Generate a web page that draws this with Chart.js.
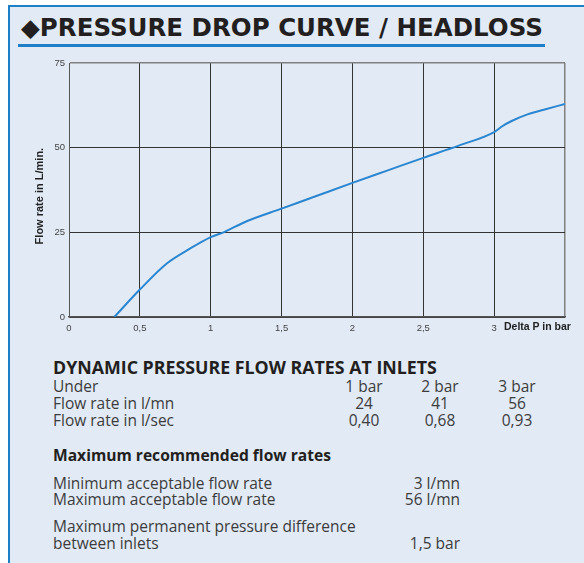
<!DOCTYPE html>
<html>
<head>
    <title>Pressure drop curve / headloss</title>
    <script src="https://cdn.jsdelivr.net/npm/chart.js"></script>
    <style>
        html, body { margin: 0; padding: 0; background: #fff; }
        .page {
            position: relative;
            width: 584px;
            height: 563px;
            overflow: hidden;
            background: #fff;
        }
        .frame {
            position: absolute;
            left: 8px; top: 5px;
            width: 600px; height: 600px;
            background: #e1eaf5;
            border-left: 2px solid #1d7fc6;
            border-top: 2px solid #1d7fc6;
        }
        .title {
            position: absolute;
            left: 21px; top: 13px;
            font-family: "DejaVu Sans", sans-serif;
            font-weight: bold;
            font-size: 24.5px;
            color: #231f20;
            white-space: nowrap;
        }
        .underline {
            position: absolute;
            left: 18px; top: 44px;
            width: 527px; height: 3px;
            background: #1d7fc6;
        }
        .chart-box {
            position: absolute;
            left: 0; top: 50px;
            width: 584px; height: 290px;
        }
        .xlabel {
            position: absolute;
            left: 504px; top: 320px;
            font-family: "Liberation Sans", Arial, sans-serif;
            font-weight: bold;
            font-size: 10.5px;
            color: #222;
            white-space: nowrap;
        }
        .txt {
            position: absolute;
            font-family: "Open Sans", sans-serif;
            font-size: 15.5px;
            color: #3c3c3c;
            white-space: nowrap;
            line-height: 17px;
        }
        .h1 { font-weight: bold; font-size: 17.8px; color: #231f20; }
        .h2 { font-weight: bold; font-size: 15.6px; color: #231f20; }
        .c { text-align: center; width: 60px; }
        .r { text-align: right; width: 80px; }
    </style>
</head>
<body>
<div class="page">
    <div class="frame"></div>
    <div class="title">&#9670;PRESSURE DROP CURVE / HEADLOSS</div>
    <div class="underline"></div>

    <div class="chart-box">
        <canvas id="flowChart" width="584" height="290"></canvas>
    </div>
    <div class="xlabel">Delta P in bar</div>

    <!-- tableau sous la courbe -->
    <div class="txt h1" style="left:53px; top:359px;">DYNAMIC PRESSURE FLOW RATES AT INLETS</div>
    <div class="txt" style="left:53px; top:378px;">Under</div>
    <div class="txt" style="left:53px; top:395px;">Flow rate in l/mn</div>
    <div class="txt" style="left:53px; top:412px;">Flow rate in l/sec</div>

    <div class="txt c" style="left:334px; top:378px;">1 bar</div>
    <div class="txt c" style="left:410px; top:378px;">2 bar</div>
    <div class="txt c" style="left:487px; top:378px;">3 bar</div>
    <div class="txt c" style="left:334px; top:395px;">24</div>
    <div class="txt c" style="left:410px; top:395px;">41</div>
    <div class="txt c" style="left:487px; top:395px;">56</div>
    <div class="txt c" style="left:334px; top:412px;">0,40</div>
    <div class="txt c" style="left:410px; top:412px;">0,68</div>
    <div class="txt c" style="left:487px; top:412px;">0,93</div>

    <div class="txt h2" style="left:53px; top:447px;">Maximum recommended flow rates</div>
    <div class="txt" style="left:53px; top:475px;">Minimum acceptable flow rate</div>
    <div class="txt" style="left:53px; top:491px;">Maximum acceptable flow rate</div>
    <div class="txt r" style="left:380px; top:475px;">3 l/mn</div>
    <div class="txt r" style="left:380px; top:491px;">56 l/mn</div>

    <div class="txt" style="left:53px; top:518px;">Maximum permanent pressure difference</div>
    <div class="txt" style="left:53px; top:535px;">between inlets</div>
    <div class="txt r" style="left:380px; top:535px;">1,5 bar</div>
</div>

<script>
// courbe (Delta P en bar, débit en L/min)
const deltaP = [0.32, 0.5, 0.69, 0.85, 1.0, 1.09, 1.25, 1.5, 1.75, 2.0, 2.25, 2.5, 2.75, 3.0, 3.06, 3.12, 3.24, 3.35, 3.5];
const flowRate = [0, 8.1, 15.8, 20.1, 23.6, 25.0, 28.2, 32.0, 35.8, 39.6, 43.3, 47.0, 50.6, 54.6, 56.4, 57.8, 59.9, 61.2, 62.9];

const xTickLabels = ['0', '0,5', '1', '1,5', '2', '2,5', '3'];
const yTickLabels = ['0', '25', '50', '75'];

const points = deltaP.map((x, i) => ({ x: x, y: flowRate[i] }));

const tickFont = { family: 'Liberation Sans', size: 9.5 };

new Chart(document.getElementById('flowChart').getContext('2d'), {
    type: 'line',
    data: {
        datasets: [{
            data: points,
            borderColor: '#2a86d0',
            borderWidth: 2,
            pointRadius: 0,
            cubicInterpolationMode: 'monotone',
            fill: false
        }]
    },
    options: {
        responsive: false,
        animation: false,
        layout: { padding: { top: 13, right: 19, left: 29, bottom: 0 } },
        plugins: {
            legend: { display: false },
            tooltip: { enabled: false }
        },
        scales: {
            x: {
                type: 'linear',
                min: 0,
                max: 3.5,
                ticks: {
                    stepSize: 0.5,
                    padding: 6,
                    color: '#444',
                    font: tickFont,
                    maxRotation: 0,
                    callback: (v, i) => xTickLabels[i] !== undefined ? xTickLabels[i] : ''
                },
                grid: {
                    drawTicks: false,
                    color: (ctx) => ctx.tick && ctx.tick.value === 3.5 ? '#808080' : '#333',
                    lineWidth: (ctx) => ctx.tick && ctx.tick.value === 3.5 ? 1.5 : 1
                },
                border: { color: '#555', width: 1.5 },
                afterFit: (s) => { s.height = 23; }
            },
            y: {
                min: 0,
                max: 75,
                ticks: {
                    stepSize: 25,
                    padding: 4,
                    color: '#444',
                    font: tickFont,
                    callback: (v, i) => yTickLabels[i]
                },
                grid: {
                    drawTicks: false,
                    color: (ctx) => ctx.tick && ctx.tick.value === 75 ? '#808080' : '#333',
                    lineWidth: (ctx) => ctx.tick && ctx.tick.value === 75 ? 1.5 : 1
                },
                border: { color: '#555', width: 1 },
                title: {
                    display: true,
                    // espaces en fin pour descendre un peu le titre, comme sur l'original
                    text: 'Flow rate in L/min.    ',
                    color: '#222',
                    font: { family: 'Liberation Sans', size: 11, weight: 'bold' },
                    padding: { top: 4, bottom: 0 }
                },
                afterFit: (s) => { s.width = 40; }
            }
        }
    }
});
</script>
</body>
</html>
